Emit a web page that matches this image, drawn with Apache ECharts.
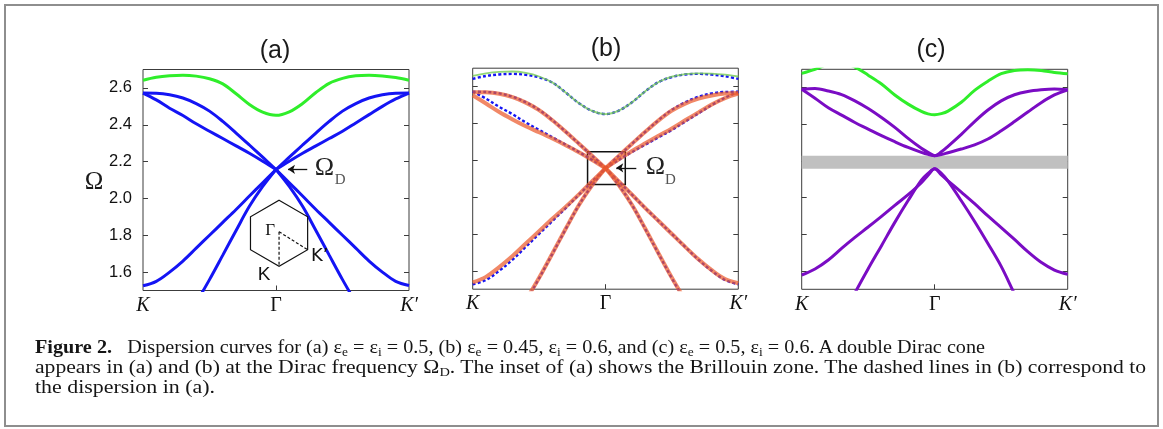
<!DOCTYPE html>
<html>
<head>
<meta charset="utf-8">
<script src="https://cdn.jsdelivr.net/npm/echarts/dist/echarts.min.js"></script>
<style>
  html, body { margin: 0; padding: 0; background: #fff; }
  #frame { position: absolute; left: 4px; top: 4px; width: 1151px; height: 419px; border: 2px solid #8e8e8e; box-sizing: content-box; }
  #chart { position: absolute; left: 0; top: 0; width: 1163px; height: 429px; }
  #caption { position: absolute; left: 35px; top: 337px; font-family: 'Liberation Serif', serif; font-size: 19.5px; line-height: 19.8px; color: #151515; }
  #caption .ln { white-space: nowrap; transform-origin: 0 50%; display: block; width: max-content; }
  #caption sub { font-size: 13px; vertical-align: -3px; line-height: 0; }
</style>
</head>
<body>
<div id="frame"></div>
<div id="chart"></div>
<div id="caption">
  <div class="ln" data-w="950"><b>Figure 2.</b>&ensp; Dispersion curves for (a) ε<sub>e</sub> = ε<sub>i</sub> = 0.5, (b) ε<sub>e</sub> = 0.45, ε<sub>i</sub> = 0.6, and (c) ε<sub>e</sub> = 0.5, ε<sub>i</sub> = 0.6. A double Dirac cone</div>
  <div class="ln" data-w="1111">appears in (a) and (b) at the Dirac frequency Ω<sub>D</sub>. The inset of (a) shows the Brillouin zone. The dashed lines in (b) correspond to</div>
  <div class="ln" data-w="180">the dispersion in (a).</div>
</div>
<script>
// ---------------- data ----------------
const panelTitles = ['(a)', '(b)', '(c)'];
const xLabelVals = [0, 1, 2];
const xLabels = ['K', 'Γ', 'K′'];
const xTickVals = [1];
const yTickVals = [1.6, 1.8, 2.0, 2.2, 2.4, 2.6];
const yMin = 1.5, yMax = 2.7;

// path coordinate K(0) -> Γ(1) -> K'(2)
const tAB = [0,0.1,0.2,0.3,0.4,0.5,0.6,0.7,0.8,0.9,1,1.1,1.2,1.3,1.4,1.5,1.6,1.7,1.8,1.9,2];

// panel (a)  eps_e = eps_i = 0.5
const aGreen = [2.642,2.658,2.666,2.669,2.664,2.650,2.622,2.568,2.510,2.468,2.451,2.470,2.515,2.575,2.625,2.652,2.666,2.669,2.665,2.656,2.642];
const aBand4 = [2.572,2.571,2.563,2.545,2.515,2.474,2.418,2.355,2.290,2.224,2.157,2.224,2.290,2.355,2.418,2.474,2.515,2.545,2.563,2.571,2.572];
const aBand3 = [2.572,2.535,2.490,2.450,2.405,2.365,2.325,2.285,2.245,2.202,2.157,2.202,2.245,2.285,2.325,2.365,2.410,2.455,2.500,2.540,2.572];
const aBand2 = [1.526,1.550,1.600,1.660,1.730,1.800,1.870,1.940,2.013,2.085,2.157,2.085,2.013,1.940,1.870,1.800,1.730,1.660,1.600,1.550,1.527];
const aBand1 = [null,null,null,1.310,1.434,1.559,1.692,1.826,1.957,2.065,2.157,2.065,1.957,1.826,1.692,1.559,1.434,1.310,null,null,null];

// panel (b)  eps_e = 0.45, eps_i = 0.6
const bGreen = [2.658,2.672,2.680,2.682,2.674,2.655,2.622,2.568,2.510,2.468,2.451,2.470,2.515,2.575,2.625,2.654,2.668,2.672,2.671,2.665,2.655];
const bBand4 = [2.570,2.569,2.561,2.543,2.513,2.472,2.417,2.355,2.290,2.224,2.157,2.224,2.290,2.355,2.417,2.470,2.508,2.535,2.552,2.562,2.565];
const bBand3 = [2.553,2.508,2.462,2.422,2.385,2.352,2.318,2.282,2.244,2.202,2.157,2.205,2.250,2.292,2.333,2.373,2.417,2.460,2.503,2.538,2.562];
const bBand2 = [1.537,1.567,1.620,1.680,1.748,1.815,1.882,1.947,2.015,2.086,2.157,2.085,2.013,1.940,1.870,1.800,1.730,1.662,1.603,1.555,1.532];
const bBand1 = [null,null,null,1.300,1.437,1.562,1.694,1.828,1.957,2.066,2.157,2.066,1.957,1.828,1.694,1.562,1.437,1.300,null,null,null];

// panel (c)  eps_e = 0.5, eps_i = 0.6
const tC = [0,0.1,0.2,0.3,0.4,0.5,0.6,0.7,0.8,0.9,0.95,1,1.05,1.1,1.2,1.3,1.4,1.5,1.6,1.7,1.8,1.9,2];
const cGreen = [2.678,2.700,2.728,2.735,2.712,2.668,2.620,2.560,2.510,2.470,2.457,2.452,2.458,2.472,2.520,2.585,2.635,2.676,2.694,2.698,2.694,2.683,2.676];
const cBand4 = [2.591,2.595,2.582,2.562,2.528,2.486,2.437,2.383,2.323,2.269,2.247,2.229,2.250,2.280,2.345,2.415,2.478,2.528,2.561,2.579,2.588,2.592,2.588];
const cBand3 = [2.591,2.542,2.490,2.450,2.410,2.374,2.338,2.305,2.274,2.247,2.236,2.229,2.235,2.245,2.265,2.288,2.320,2.365,2.415,2.467,2.518,2.560,2.588];
const cBand2 = [1.578,1.611,1.660,1.723,1.783,1.840,1.898,1.958,2.016,2.081,2.122,2.157,2.124,2.092,2.030,1.967,1.900,1.837,1.772,1.705,1.647,1.605,1.582];
const cBand1 = [null,null,null,1.340,1.480,1.612,1.738,1.865,1.984,2.095,2.132,2.157,2.132,2.090,1.983,1.870,1.750,1.625,1.475,1.330,null,null,null];

// annotations (data coordinates)
const diracArrowA = [[1.235, 2.158], [1.09, 2.158]];
const diracArrowB = [[1.232, 2.159], [1.081, 2.159]];
const zoomBoxB = [[0.865, 2.068], [1.149, 2.247]];
const gapBandC = [2.157, 2.229];
const hexCenterA = [1.023, 1.811];

// ---------------- styles ----------------
const FRAME = '#3c3c3c';
const BLUE = '#1414f4';
const GREEN = '#2fee2a';
const PURPLE = '#7a0cc4';
const ORANGE = '#ec5a2c';
const LIGHTGREEN = '#77cc55';

const grids = [
  { left: 143, top: 69.5, width: 266, height: 221 },
  { left: 472.7, top: 68.2, width: 265.6, height: 221 },
  { left: 801.7, top: 69.3, width: 266, height: 220 }
];

function pairs(t, v, from, to) {
  const out = [];
  for (let i = from; i <= to; i++) if (v[i] != null) out.push([t[i], v[i]]);
  return out;
}
function mk(gi, data, lineStyle, extra) {
  return Object.assign({
    type: 'line', xAxisIndex: gi, yAxisIndex: gi * 2, data: data,
    symbol: 'none', showSymbol: false, smooth: 0.35, clip: true,
    silent: true, animation: false, lineStyle: lineStyle, z: 2
  }, extra || {});
}
const series = [];
// split band at Γ (kinked Dirac crossing)
function splitBand(gi, t, v, ls, extra) {
  const mid = t.indexOf(1);
  series.push(mk(gi, pairs(t, v, 0, mid), ls, extra));
  series.push(mk(gi, pairs(t, v, mid, t.length - 1), ls, extra));
}

// (a)
const lsBlue = { color: BLUE, width: 3 };
series.push(mk(0, pairs(tAB, aGreen, 0, 20), { color: GREEN, width: 3 }, {
  markLine: {
    silent: true, symbol: ['none', 'arrow'], symbolSize: 7,
    label: { show: false }, lineStyle: { color: '#111', width: 1.3, type: 'solid' },
    emphasis: { disabled: true },
    data: [[{ coord: diracArrowA[0] }, { coord: diracArrowA[1] }]]
  }
}));
[aBand4, aBand3, aBand2, aBand1].forEach(b => splitBand(0, tAB, b, lsBlue));

// (b) dashed = dispersion of (a)
const lsDash = { color: BLUE, width: 2.4, type: [3, 2.2] };
series.push(mk(1, pairs(tAB, aGreen, 0, 20), lsDash));
[aBand4, aBand3, aBand2, aBand1].forEach(b => splitBand(1, tAB, b, lsDash));
const lsOrange = { color: ORANGE, width: 4, opacity: 0.72 };
[bBand4, bBand3, bBand2, bBand1].forEach(b => splitBand(1, tAB, b, lsOrange, { z: 3 }));
series.push(mk(1, pairs(tAB, bGreen, 0, 20), { color: LIGHTGREEN, width: 1.8, opacity: 0.8 }, {
  z: 4,
  markLine: {
    silent: true, symbol: ['none', 'arrow'], symbolSize: 7,
    label: { show: false }, lineStyle: { color: '#111', width: 1.3, type: 'solid', opacity: 1 },
    emphasis: { disabled: true },
    data: [[{ coord: diracArrowB[0] }, { coord: diracArrowB[1] }]]
  },
  markArea: {
    silent: true, label: { show: false },
    itemStyle: { color: 'rgba(0,0,0,0)', borderColor: '#111', borderWidth: 1.5, opacity: 1 },
    emphasis: { disabled: true },
    data: [[{ coord: zoomBoxB[0] }, { coord: zoomBoxB[1] }]]
  }
}));

// (c)
series.push(mk(2, [], { width: 0 }, {
  z: 1,
  markArea: {
    silent: true, label: { show: false },
    itemStyle: { color: '#c0c0c0', opacity: 1 },
    emphasis: { disabled: true },
    data: [[{ coord: [0, gapBandC[0]] }, { coord: [2, gapBandC[1]] }]]
  }
}));
series.push(mk(2, pairs(tC, cGreen, 0, tC.length - 1), { color: GREEN, width: 3 }));
[cBand4, cBand3, cBand2, cBand1].forEach(b =>
  series.push(mk(2, pairs(tC, b, 0, tC.length - 1), { color: PURPLE, width: 3 })));

// ---------------- axes ----------------
const xAxes = [], yAxes = [];
for (let g = 0; g < 3; g++) {
  xAxes.push({
    gridIndex: g, type: 'value', min: 0, max: 2,
    axisLine: { show: false }, splitLine: { show: false },
    axisTick: { show: true, inside: true, length: 5, customValues: xTickVals, lineStyle: { color: FRAME, width: 1 } },
    axisLabel: {
      show: true, customValues: xLabelVals, margin: 5,
      formatter: v => { const i = xLabelVals.indexOf(v); return (i === 1 ? '{u|' : '{i|') + xLabels[i] + '}'; },
      rich: {
        i: { fontFamily: 'Liberation Serif', fontStyle: 'italic', fontSize: 20, color: '#111' },
        u: { fontFamily: 'Liberation Serif', fontSize: 20, color: '#111' }
      }
    }
  });
  yAxes.push({
    gridIndex: g, type: 'value', min: yMin, max: yMax, position: 'left',
    axisLine: { show: false }, splitLine: { show: false },
    axisTick: { show: true, inside: true, length: 5, customValues: yTickVals, lineStyle: { color: FRAME, width: 1 } },
    axisLabel: {
      show: g === 0, customValues: yTickVals, margin: 11,
      formatter: v => v.toFixed(1),
      fontFamily: 'Liberation Sans', fontSize: 16.5, color: '#111'
    }
  });
  yAxes.push({
    gridIndex: g, type: 'value', min: yMin, max: yMax, position: 'right',
    axisLine: { show: false }, splitLine: { show: false },
    axisTick: { show: true, inside: true, length: 5, customValues: yTickVals, lineStyle: { color: FRAME, width: 1 } },
    axisLabel: { show: false }
  });
}

const chart = echarts.init(document.getElementById('chart'), null, { renderer: 'canvas' });
chart.setOption({
  animation: false,
  backgroundColor: 'transparent',
  grid: grids.map(g => Object.assign({ show: true, borderColor: FRAME, borderWidth: 1, backgroundColor: 'transparent', containLabel: false }, g)),
  xAxis: xAxes,
  yAxis: yAxes,
  series: series
});

// ---------------- text annotations ----------------
const P = (g, pt) => chart.convertToPixel({ gridIndex: g }, pt);
const gfx = [];
const titlePos = [[275, 51.5], [606, 49.5], [931, 50.5]];
panelTitles.forEach((t, i) => gfx.push({
  type: 'text', x: titlePos[i][0], y: titlePos[i][1],
  style: { text: t, align: 'center', verticalAlign: 'middle', fontFamily: 'Liberation Sans', fontSize: 25, fill: '#1a1a1a' }
}));
// y axis name
gfx.push({ type: 'text', x: 94, y: 182, style: { text: 'Ω', align: 'center', verticalAlign: 'middle', fontFamily: 'Liberation Serif', fontSize: 25, fill: '#1a1a1a' } });

// Ω_D labels next to arrows
[[0, diracArrowA[0], 7.4, -1.5, 27.4, 11], [1, diracArrowB[0], 9.4, -0.7, 28.7, 12.3]].forEach(a => {
  const p = P(a[0], a[1]);
  gfx.push({ type: 'text', x: p[0] + a[2], y: p[1] + a[3], style: { text: 'Ω', align: 'left', verticalAlign: 'middle', fontFamily: 'Liberation Serif', fontSize: 26, fill: '#222' } });
  gfx.push({ type: 'text', x: p[0] + a[4], y: p[1] + a[5], style: { text: 'D', align: 'left', verticalAlign: 'middle', fontFamily: 'Liberation Serif', fontSize: 15, fill: '#555' } });
});

// Brillouin-zone inset in (a)
const hc = P(0, hexCenterA);
const R = 33;
const hexPts = [];
for (let k = 0; k < 6; k++) {
  const ang = (-90 + 60 * k) * Math.PI / 180;
  hexPts.push([hc[0] + R * Math.cos(ang), hc[1] + R * Math.sin(ang)]);
}
gfx.push({ type: 'polygon', shape: { points: hexPts }, style: { fill: 'none', stroke: '#111', lineWidth: 1.2 }, z: 10 });
const gp = [hc[0], hc[1] - 1.5];
gfx.push({ type: 'line', shape: { x1: gp[0], y1: gp[1], x2: hexPts[3][0], y2: hexPts[3][1] }, style: { stroke: '#111', lineWidth: 1.2, lineDash: [3, 2] }, z: 10 });
gfx.push({ type: 'line', shape: { x1: gp[0], y1: gp[1], x2: hexPts[2][0], y2: hexPts[2][1] }, style: { stroke: '#111', lineWidth: 1.2, lineDash: [3, 2] }, z: 10 });
gfx.push({ type: 'text', x: hc[0] - 9, y: hc[1] - 3, style: { text: 'Γ', align: 'center', verticalAlign: 'middle', fontFamily: 'Liberation Serif', fontSize: 17, fill: '#111' }, z: 10 });
gfx.push({ type: 'text', x: hc[0] - 15, y: hc[1] + 42, style: { text: 'K', align: 'center', verticalAlign: 'middle', fontFamily: 'Liberation Sans', fontSize: 19, fill: '#111' }, z: 10 });
gfx.push({ type: 'text', x: hc[0] + 32, y: hc[1] + 23.5, style: { text: 'K’', align: 'left', verticalAlign: 'middle', fontFamily: 'DejaVu Sans', fontSize: 18, fill: '#111' }, z: 10 });

chart.setOption({ graphic: gfx });

// fit caption lines to the measured widths of the reference lines
document.querySelectorAll('#caption .ln').forEach(el => {
  const target = parseFloat(el.dataset.w);
  const w = el.getBoundingClientRect().width;
  if (w > 0) el.style.transform = 'scaleX(' + (target / w).toFixed(4) + ')';
});
</script>
</body>
</html>
